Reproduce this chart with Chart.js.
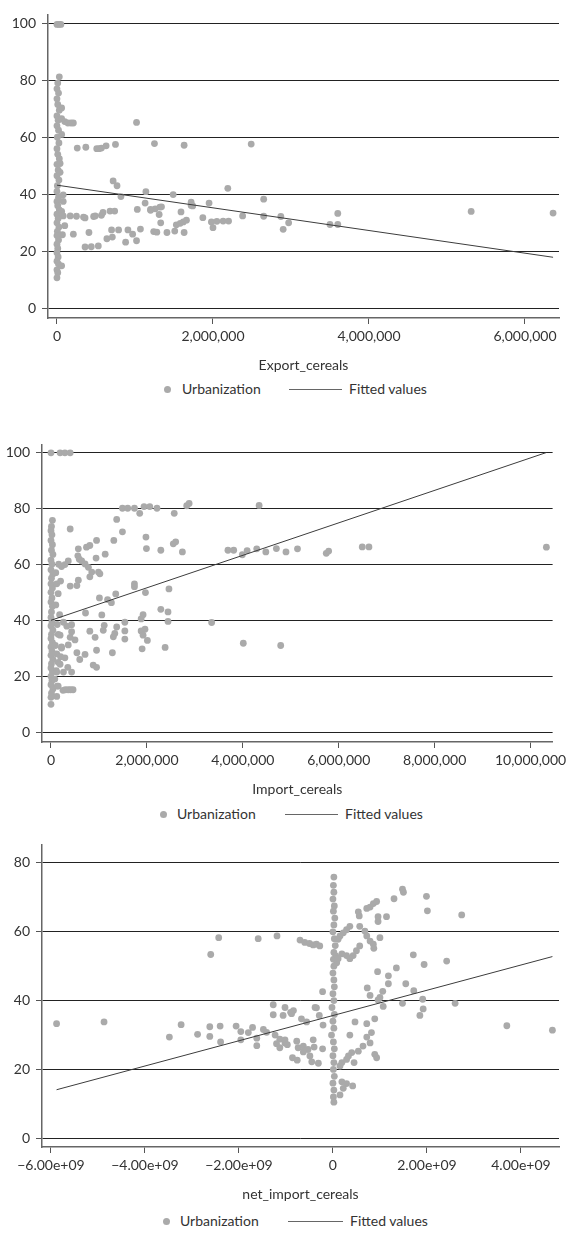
<!DOCTYPE html>
<html>
<head>
<meta charset="utf-8">
<script src="https://cdn.jsdelivr.net/npm/chart.js@4/dist/chart.umd.min.js"></script>
<style>
  body { margin: 0; background: #fff; font-family: Lato, sans-serif; color: #333; }
  #page { position: relative; width: 571px; height: 1233px; }
  canvas { position: absolute; left: 0; }
  .legend { position: absolute; left: 0; width: 571px; height: 18px; font-size: 14px; color: #333; }
  .legend span { position: absolute; top: 0; line-height: 18px; white-space: nowrap; }
  .legend .dot { top: 5.5px; width: 7px; height: 7px; border-radius: 50%; background: #aaa; }
  .legend .ln { top: 9px; height: 1px; background: #666; }
</style>
</head>
<body>
<div id="page">
  <canvas id="c1" width="571" height="374" style="top:0px"></canvas>
  <div class="legend" style="top:380px">
    <span class="dot" style="left:164px"></span><span style="left:182px">Urbanization</span>
    <span class="ln" style="left:289px;width:53px"></span><span style="left:349px">Fitted values</span>
  </div>
  <canvas id="c2" width="571" height="368" style="top:430px"></canvas>
  <div class="legend" style="top:805px">
    <span class="dot" style="left:160px"></span><span style="left:177px">Urbanization</span>
    <span class="ln" style="left:285px;width:53px"></span><span style="left:345px">Fitted values</span>
  </div>
  <canvas id="c3" width="571" height="373" style="top:830px"></canvas>
  <div class="legend" style="top:1212px">
    <span class="dot" style="left:163px"></span><span style="left:180px">Urbanization</span>
    <span class="ln" style="left:288px;width:55px"></span><span style="left:350px">Fitted values</span>
  </div>
</div>
<script>
// ─── Chart 1: Urbanization vs Export_cereals ───────────────────────────────
const exportX = [
  0, 25000, 50000,
  30000, 10000, 0, 20000, 0, 10000, 30000, 0, 15000, 0, 20000, 5000, 25000, 0, 10000, 30000, 0,
  15000, 0, 25000, 5000, 0, 20000, 0, 10000, 30000, 0, 15000, 0, 25000, 5000, 0, 20000, 0, 10000,
  0, 15000, 0, 20000, 0, 10000, 0,
  60000, 60000, 100000, 140000, 180000, 210000, 60000, 40000, 40000, 80000, 80000, 60000, 100000,
  70000, 60000, 80000, 170000, 250000, 340000, 470000, 490000, 570000, 680000, 740000, 210000, 360000,
  260000, 370000, 510000, 540000, 570000, 630000, 750000,
  1020000, 1250000, 1630000, 2490000,
  720000, 770000, 820000, 1140000, 1490000, 2190000, 2650000, 5310000, 6360000,
  2870000, 2900000, 2970000, 3500000, 3600000, 3600000,
  1950000, 1870000, 1980000, 2000000, 2050000, 2130000, 2200000, 2380000, 2650000,
  410000, 360000, 440000, 530000, 640000, 700000, 790000, 880000, 910000, 970000, 1020000, 1070000,
  1030000, 1130000, 1200000, 1260000, 1320000, 1310000, 1330000, 1240000, 1280000, 1410000, 1510000,
  1530000, 1580000, 1620000, 1660000, 1590000, 1630000, 1720000, 1720000, 1740000, 710000, 590000,
  1200000, 1340000,
];
const exportUrban = [
  99.6, 99.6, 99.6,
  81.2, 79, 77, 75.5, 73.5, 71.5, 69.5, 67.5, 66, 64, 62.5, 60, 58, 56, 54, 52.5, 50.5,
  48.5, 46.5, 45, 43, 41, 39, 37.5, 36, 34.5, 33, 31.5, 30, 28.5, 27, 25.5, 24, 22.5, 21,
  19.5, 18, 16.5, 15.5, 13.5, 12.5, 10.7,
  70.3, 66.5, 65.5, 65, 65, 65, 61, 50.8, 47.7, 39.8, 37.5, 34, 29,
  25.8, 14.9, 32.4, 32.4, 32.3, 32, 32.2, 32.4, 32.6, 34.1, 34.1, 26, 31.7,
  56.2, 56.5, 56, 56, 56.2, 57, 57.5,
  65.2, 57.8, 57.2, 57.6,
  44.7, 43, 39.2, 40.9, 39.9, 42.1, 38.3, 34, 33.4,
  32.2, 27.7, 30, 29.4, 29.4, 33.3,
  36.9, 31.8, 30.3, 28.3, 30.5, 30.6, 30.6, 32.4, 32.3,
  26.6, 21.5, 21.6, 21.9, 24.4, 27.5, 27.5, 23.2, 27.5, 26, 23.7, 27.8,
  34.7, 36.9, 34.4, 34.9, 35.5, 32.9, 30, 26.9, 26.7, 26.6, 27.1,
  29.3, 29.8, 30.3, 30.9, 33.8, 26.6, 37.2, 36.1, 35.9, 25, 33.6,
  34.7, 35.6,
];
const exportFitX = [0, 6360000];
const exportFitY = [43.2, 17.9];
const exportTicks = [0, 2000000, 4000000, 6000000];

// ─── Chart 2: Urbanization vs Import_cereals ───────────────────────────────
const importX = [
  0, 190000, 290000, 400000,
  30000, 10000, 0, 20000, 0, 30000, 10000, 40000, 0, 20000, 0, 40000, 10000, 0, 30000, 0,
  20000, 0, 30000, 10000, 0, 20000, 0, 40000, 10000, 0, 30000, 0, 20000, 0, 40000, 10000,
  0, 30000, 0, 20000, 0, 40000, 10000, 0, 0,
  100000, 120000, 150000, 100000, 130000, 150000, 90000, 120000, 150000, 110000, 80000, 130000,
  120000, 160000, 200000, 180000, 220000, 200000, 190000, 120000,
  1490000, 1600000, 1740000, 1850000, 1940000, 2060000, 2210000, 2570000, 2830000, 2880000,
  1370000, 1490000, 1310000, 1980000, 1990000, 2290000, 2550000, 2600000, 2740000,
  950000, 810000, 740000, 570000, 560000, 590000, 360000, 290000, 220000, 400000, 940000, 1130000,
  640000, 710000, 780000, 850000, 990000, 1020000, 810000, 570000, 400000, 540000,
  1740000, 1740000, 1970000, 1350000, 1010000, 1180000, 1260000, 2460000, 2290000, 2440000, 2440000,
  1920000, 1880000, 720000, 1060000, 1540000, 1370000, 1330000, 1300000, 1280000, 1540000, 1540000,
  1880000, 1960000, 1920000, 2010000, 1900000, 2380000, 810000, 920000, 1090000, 1110000,
  950000, 880000, 950000, 710000, 600000, 540000, 500000, 430000, 400000, 360000, 330000, 430000,
  260000, 190000, 220000, 290000, 430000, 260000, 350000, 360000, 410000, 460000, 150000, 250000, 300000,
  4340000, 3690000, 3810000, 3990000, 4090000, 4290000, 4480000, 4700000, 4900000, 5140000,
  5740000, 5790000, 6490000, 6630000, 10330000, 3350000, 4010000, 4790000,
];
const importUrban = [
  99.8, 99.8, 99.8, 99.8,
  75.7, 73.5, 72, 70.5, 68.5, 67, 65, 63.5, 61.5, 60, 58, 56.5, 55, 53, 51.5, 50,
  48, 46.5, 45, 43, 41, 39.5, 38, 36.5, 35, 33.5, 32, 30.5, 29, 27.5, 26, 24.5,
  23, 21.5, 20, 18.5, 17, 15.5, 14, 12.5, 10,
  57, 53, 49.5, 45.5, 38.5, 35, 31, 28, 25, 22, 19, 16.5,
  12.8, 60, 54, 42, 30.5, 27, 24.3, 21.5,
  80, 80, 80, 78.2, 80.6, 80.6, 80, 78.2, 80.9, 81.7,
  76, 71.6, 68.5, 69.7, 65.6, 65, 67.3, 68, 64.4,
  68.5, 66.7, 66.1, 65.5, 63, 61.8, 61.2, 59.9, 59.2, 72.6, 62.2, 63.6,
  61.2, 60.1, 58.9, 57.2, 57.2, 56.6, 55.5, 54.3, 52.2, 52.4,
  53, 52, 49.9, 49.4, 48, 47.4, 46.3, 51.2, 43.9, 43, 39.6,
  42, 40.5, 42.6, 41.9, 39.3, 37.6, 35.3, 34.1, 28.4, 36.2, 33.3,
  36.2, 36.8, 34.7, 32.8, 29.8, 30.3, 36.1, 33.9, 36.4, 38.2,
  29.3, 24, 23.2, 27.8, 26, 28.4, 33, 35.9, 33.9, 31.2, 37.9, 38.4,
  39.3, 34.7, 30.1, 26.6, 21.5, 21.5, 23.2, 15.2, 15.2, 15.2, 16.5, 15, 15.2,
  81, 65, 65, 63.4, 64.9, 65.5, 64.4, 65.6, 64.4, 65.5,
  63.9, 64.7, 66.2, 66.2, 66.1, 39.2, 31.8, 31,
];
const importFitX = [0, 10330000];
const importFitY = [40, 99.9];
const importTicks = [0, 2000000, 4000000, 6000000, 8000000, 10000000];

// ─── Chart 3: Urbanization vs net_import_cereals ───────────────────────────
const netX = [
  0.02e9, 0.01e9, 0.02e9, 0, 0.03e9, 0.01e9, 0.04e9, 0.02e9, 0, 0.03e9, 0.05e9, 0.02e9, 0.06e9,
  0.01e9, 0.08e9, 0.02e9, 0, 0.02e9, 0.03e9, 0, 0.02e9, -0.02e9, 0.03e9, 0, 0.02e9, -0.03e9,
  0.01e9, 0.03e9, 0, 0.02e9, 0.01e9, 0.03e9, 0, 0.02e9, 0.01e9, 0.02e9,
  -1.19e9, -0.7e9, -0.6e9, -0.5e9, -0.42e9, -0.35e9, -0.28e9,
  -1.27e9, -1.27e9, -1.06e9, -1.02e9, -0.84e9, -0.88e9, -0.67e9, -0.56e9, -0.38e9, -0.29e9, -0.21e9, -0.22e9,
  -1.23e9, -1.13e9, -1.02e9, -0.77e9, -0.74e9, -0.63e9, -0.53e9, -0.42e9, -0.4e9, -0.22e9, -0.49e9,
  -0.86e9, -0.76e9, -0.45e9, -0.31e9, -0.63e9,
  0.54e9, 0.56e9, 0.72e9, 0.79e9, 0.86e9, 0.93e9, 1.3e9, 1.48e9, 1.5e9, 1.99e9, 2.01e9, 2.74e9,
  0.36e9, 0.29e9, 0.22e9, 0.15e9, 0.11e9,
  0.57e9, 0.68e9, 0.72e9, 0.79e9, 0.57e9, 0.5e9, 0.43e9, 0.36e9, 0.29e9, 0.19e9, 0.11e9,
  0.86e9, 1.0e9, 0.87e9, 0.96e9, 1.14e9, 0.96e9,
  1.71e9, 1.94e9, 2.42e9, 0.95e9, 1.18e9, 1.35e9,
  0.73e9, 0.79e9, 1.0e9, 1.06e9, 1.18e9, 1.55e9, 1.72e9, 1.91e9, 1.48e9, 1.07e9, 0.96e9,
  2.6e9, 1.92e9, 1.85e9,
  0.47e9, 0.72e9, 0.89e9, 0.82e9, 0.72e9, 0.79e9, 0.64e9, 0.54e9, 0.4e9, 0.33e9, 0.45e9, 0.36e9,
  0.89e9, 0.93e9, 3.7e9, 4.67e9,
  0.19e9, 0.29e9, 0.42e9, 0.22e9, 0.15e9, 0.19e9, 0.29e9, 0.15e9,
  -5.88e9, -4.87e9, -3.48e9, -3.23e9, -2.88e9, -2.62e9, -2.62e9, -2.4e9, -2.39e9, -2.6e9, -2.43e9, -1.59e9,
  -2.06e9, -1.96e9, -1.96e9, -1.8e9, -1.71e9, -1.62e9, -1.62e9, -1.48e9, -1.41e9,
  -0.9e9, -1.2e9, -1.13e9, -1.02e9, -0.97e9, -0.35e9,
];
const netUrban = [
  75.9, 73.5, 71.5, 69.5, 67.5, 66, 64, 62, 60, 58, 56, 54, 53,
  52, 51, 50, 48, 46, 44, 42, 40, 38, 36, 34, 32, 30,
  28, 26, 24, 22, 20, 18, 16, 14, 12, 10.5,
  58.8, 57.6, 56.9, 56.6, 56.2, 56.4, 55.9,
  38.8, 35.9, 35.7, 38, 37.1, 36.2, 34.7, 33.8, 38, 35.7, 32.9, 42.6,
  30, 28.8, 27.7, 28.2, 26.3, 26.8, 25.8, 28.6, 26.5, 26, 23.9,
  23.4, 22.7, 22.2, 21.8, 25.1,
  65.8, 64.6, 66.8, 67.2, 68.2, 68.8, 69.6, 72.4, 71.5, 70.3, 66.1, 64.9,
  61.6, 60.6, 59.7, 58.8, 57.8,
  61.6, 60.2, 58.8, 57.3, 55.9, 54.5, 53.1, 52.2, 53.1, 53.6, 52.2,
  56.4, 58.3, 55.2, 63, 64.4, 64.4,
  53.3, 50.5, 51.5, 48.4, 47.2, 49.5,
  43.7, 41.5, 40.9, 42.7, 44.9, 44.9, 42.9, 40.4, 39.2, 38.3, 40.2,
  39.2, 37.6, 35.7,
  33.8, 33.3, 34.7, 30.7, 29.4, 27.7, 26.8, 25.3, 24.9, 23.9, 22, 30,
  24.4, 23.4, 32.7, 31.4,
  16.4, 15.9, 15.2, 14.5, 12.6, 22, 22.9, 21,
  33.3, 33.8, 29.4, 33, 30.2, 32.4, 29.6, 32.6, 28, 53.4, 58.3, 58,
  32.6, 31, 28.6, 30.7, 32.2, 29.1, 26.9, 31.6, 30.8,
  36.6, 27.5, 26.3, 28.6, 27.2, 37.9,
];
const netFitX = [-5.88e9, 4.67e9];
const netFitY = [14.1, 52.8];
const netTicks = [-6e9, -4e9, -2e9, 0, 2e9, 4e9];

const urbanTicks = [0, 20, 40, 60, 80, 100];

const FONT = { family: 'Lato, sans-serif', size: 14 };
const TEXT = '#333';

function commas(v) {
  return String(Math.round(v)).replace(/\B(?=(\d{3})+(?!\d))/g, ',');
}
function sci(v) {
  if (v === 0) return '0';
  return (v < 0 ? '\u2212' : '') + (Math.abs(v) / 1e9).toFixed(2) + 'e+09';
}

function pairs(xs, ys) {
  return xs.map((x, i) => ({ x, y: ys[i] }));
}

function buildChart(id, cfg) {
  // explicit ticks: Chart.js merges large stepSize ranges into odd spacings
  const yTicks = urbanTicks.filter(v => v <= cfg.yMax);
  return new Chart(document.getElementById(id), {
    type: 'scatter',
    data: {
      datasets: [
        {
          label: 'Fitted values',
          data: pairs(cfg.fitX, cfg.fitY),
          showLine: true,
          borderColor: '#3c3c3c',
          borderWidth: 1,
          pointRadius: 0,
          order: 0,
        },
        {
          label: 'Urbanization',
          data: pairs(cfg.x, cfg.y),
          backgroundColor: '#aaaaaa',
          borderWidth: 0,
          pointRadius: 3.4,
          order: 1,
        },
      ],
    },
    options: {
      responsive: false,
      animation: false,
      events: [],
      layout: { padding: { top: cfg.padTop, right: cfg.padRight, left: 0, bottom: 0 } },
      plugins: { legend: { display: false }, tooltip: { enabled: false } },
      scales: {
        x: {
          type: 'linear',
          min: cfg.xMin, max: cfg.xMax,
          afterBuildTicks: s => { s.ticks = cfg.xTicks.map(v => ({ value: v })); },
          afterFit: s => { s.height = 56; },
          ticks: {
            autoSkip: false, maxRotation: 0,
            callback: cfg.fmt, color: TEXT, font: FONT, padding: 4,
          },
          grid: { drawOnChartArea: false, tickLength: 6, color: '#555', lineWidth: 1 },
          border: { color: '#666', width: 1.5 },
          title: { display: true, text: cfg.xTitle, color: TEXT, font: FONT, padding: 0 },
        },
        y: {
          min: cfg.yMin, max: cfg.yMax,
          afterBuildTicks: s => { s.ticks = yTicks.map(v => ({ value: v })); },
          afterFit: s => { s.width = cfg.yWidth; },
          ticks: { padding: 6, color: TEXT, font: FONT },
          grid: { color: '#222', lineWidth: 1, tickLength: 6, tickColor: '#555' },
          border: { color: '#666', width: 1.5 },
        },
      },
    },
  });
}

buildChart('c1', {
  x: exportX, y: exportUrban, fitX: exportFitX, fitY: exportFitY,
  xMin: -115000, xMax: 6436000, xTicks: exportTicks, fmt: commas, xTitle: 'Export_cereals',
  yMin: -3.4, yMax: 103.1, yWidth: 48, padTop: 9, padRight: 12,
});
buildChart('c2', {
  x: importX, y: importUrban, fitX: importFitX, fitY: importFitY,
  xMin: -187500, xMax: 10460000, xTicks: importTicks, fmt: commas, xTitle: 'Import_cereals',
  yMin: -3.46, yMax: 102.8, yWidth: 42, padTop: 5, padRight: 18,
});
buildChart('c3', {
  x: netX, y: netUrban, fitX: netFitX, fitY: netFitY,
  xMin: -6.19e9, xMax: 4.81e9, xTicks: netTicks, fmt: sci, xTitle: 'net_import_cereals',
  yMin: -2.54, yMax: 85.4, yWidth: 42, padTop: 6, padRight: 12,
});
</script>
</body>
</html>
